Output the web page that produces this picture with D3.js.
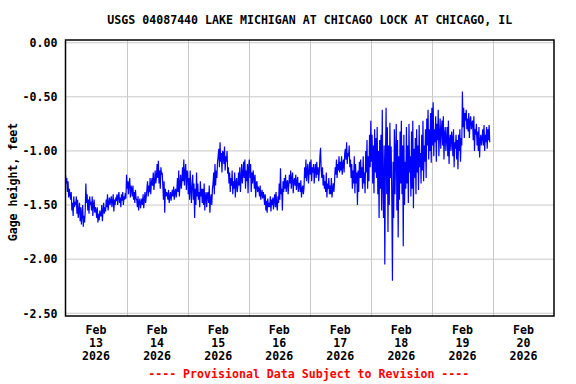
<!DOCTYPE html>
<html>
<head>
<meta charset="utf-8">
<script src="https://cdn.jsdelivr.net/npm/d3@7"></script>
<style>
  html, body { margin: 0; padding: 0; background: #fff; }
  svg { display: block; }
  text { font-family: "DejaVu Sans Mono", "Liberation Mono", monospace; font-weight: bold; font-size: 11.6px; }
</style>
</head>
<body>
<svg id="chart" width="576" height="384"></svg>
<script>
// ---- data ----
const chartTitle = "USGS 04087440 LAKE MICHIGAN AT CHICAGO LOCK AT CHICAGO, IL";
const yAxisTitle = "Gage height, feet";
const footerText = "---- Provisional Data Subject to Revision ----";
const seriesStart = "2026-02-13T00:00";
const seriesStepMinutes = 15;
// gage height, feet, one reading every 15 minutes from Feb 13 00:00
const gageFeb13 = [
  -1.22,-1.30,-1.25,-1.38,-1.28,-1.43,-1.35,-1.40, -1.45,-1.38,-1.55,-1.48,-1.60,-1.42,-1.52,-1.47,
  -1.50,-1.42,-1.58,-1.45,-1.62,-1.55,-1.48,-1.65, -1.52,-1.68,-1.58,-1.50,-1.70,-1.60,-1.66,-1.55,
  -1.30,-1.48,-1.40,-1.55,-1.45,-1.58,-1.42,-1.50, -1.47,-1.55,-1.42,-1.60,-1.50,-1.45,-1.57,-1.52,
  -1.55,-1.62,-1.52,-1.66,-1.58,-1.64,-1.55,-1.60, -1.60,-1.50,-1.65,-1.55,-1.48,-1.58,-1.52,-1.56,
  -1.45,-1.52,-1.40,-1.55,-1.48,-1.43,-1.50,-1.46, -1.42,-1.52,-1.47,-1.40,-1.56,-1.45,-1.50,-1.44,
  -1.45,-1.40,-1.50,-1.42,-1.38,-1.48,-1.43,-1.52, -1.40,-1.46,-1.38,-1.50,-1.42,-1.45,-1.39,-1.44];
const gageFeb14 = [
  -1.22,-1.35,-1.28,-1.40,-1.30,-1.25,-1.43,-1.32, -1.35,-1.42,-1.32,-1.45,-1.38,-1.48,-1.36,-1.44,
  -1.45,-1.52,-1.42,-1.55,-1.47,-1.44,-1.53,-1.48, -1.44,-1.50,-1.40,-1.53,-1.45,-1.38,-1.48,-1.42,
  -1.35,-1.28,-1.42,-1.32,-1.38,-1.25,-1.40,-1.30, -1.25,-1.32,-1.20,-1.36,-1.28,-1.18,-1.30,-1.24,
  -1.12,-1.25,-1.09,-1.30,-1.18,-1.35,-1.15,-1.22, -1.20,-1.32,-1.45,-1.28,-1.57,-1.35,-1.42,-1.38,
  -1.40,-1.45,-1.36,-1.48,-1.42,-1.38,-1.46,-1.40, -1.36,-1.42,-1.33,-1.45,-1.38,-1.35,-1.43,-1.37,
  -1.25,-1.38,-1.18,-1.42,-1.30,-1.22,-1.35,-1.28, -1.15,-1.28,-1.08,-1.32,-1.20,-1.12,-1.36,-1.18];
const gageFeb15 = [
  -1.20,-1.40,-1.25,-1.45,-1.18,-1.35,-1.48,-1.30, -1.22,-1.45,-1.30,-1.62,-1.35,-1.50,-1.20,-1.42,
  -1.30,-1.45,-1.38,-1.52,-1.28,-1.42,-1.35,-1.48, -1.35,-1.50,-1.30,-1.55,-1.42,-1.38,-1.52,-1.40,
  -1.38,-1.48,-1.32,-1.57,-1.45,-1.40,-1.50,-1.35, -1.30,-1.20,-1.40,-1.12,-1.32,-1.18,-1.25,-1.10,
  -1.05,-0.98,-1.15,-0.92,-1.10,-1.02,-1.20,-1.00, -1.02,-1.12,-0.96,-1.18,-1.05,-1.10,-1.00,-1.21,
  -1.15,-1.30,-1.20,-1.38,-1.25,-1.32,-1.18,-1.40, -1.28,-1.35,-1.20,-1.43,-1.30,-1.25,-1.38,-1.32,
  -1.20,-1.32,-1.15,-1.38,-1.25,-1.12,-1.30,-1.22, -1.10,-1.25,-1.08,-1.35,-1.18,-1.28,-1.12,-1.39];
const gageFeb16 = [
  -1.15,-1.08,-1.25,-1.12,-1.38,-1.20,-1.30,-1.18, -1.25,-1.35,-1.22,-1.43,-1.30,-1.28,-1.38,-1.33,
  -1.35,-1.42,-1.32,-1.45,-1.40,-1.36,-1.44,-1.38, -1.42,-1.50,-1.40,-1.55,-1.46,-1.57,-1.44,-1.52,
  -1.48,-1.52,-1.42,-1.56,-1.45,-1.50,-1.43,-1.54, -1.45,-1.40,-1.52,-1.38,-1.50,-1.55,-1.42,-1.48,
  -1.30,-1.45,-1.16,-1.40,-1.35,-1.55,-1.28,-1.38, -1.25,-1.35,-1.22,-1.38,-1.30,-1.27,-1.40,-1.32,
  -1.22,-1.30,-1.18,-1.35,-1.25,-1.20,-1.39,-1.28, -1.25,-1.32,-1.22,-1.36,-1.28,-1.24,-1.38,-1.30,
  -1.30,-1.38,-1.27,-1.43,-1.35,-1.32,-1.40,-1.34, -1.15,-1.25,-1.08,-1.28,-1.18,-1.12,-1.30,-1.20];
const gageFeb17 = [
  -1.10,-1.22,-1.08,-1.28,-1.15,-1.20,-1.12,-1.30, -1.18,-1.12,-1.25,-1.10,-1.22,-1.15,-1.28,-1.20,
  -1.05,-0.97,-1.18,-1.25,-1.15,-1.32,-1.22,-1.35, -1.28,-1.38,-1.20,-1.43,-1.30,-1.35,-1.25,-1.40,
  -1.32,-1.40,-1.25,-1.43,-1.35,-1.30,-1.38,-1.28, -1.15,-1.22,-1.08,-1.25,-1.12,-1.18,-1.05,-1.20,
  -1.10,-1.18,-1.05,-1.22,-1.12,-1.08,-1.20,-1.02, -0.98,-1.08,-0.92,-1.12,-1.02,-1.05,-0.95,-1.15,
  -1.08,-1.25,-1.12,-1.35,-1.18,-1.30,-1.05,-1.39, -1.12,-1.30,-1.20,-1.50,-1.18,-1.38,-1.10,-1.25,
  -1.08,-1.25,-1.15,-1.35,-1.05,-1.30,-1.20,-1.39, -1.00,-1.20,-0.90,-1.35,-1.05,-1.28,-0.85,-1.15];
const gageFeb18 = [
  -0.72,-1.10,-0.85,-1.30,-0.95,-1.39,-0.80,-1.20, -0.88,-1.25,-0.78,-1.40,-1.00,-1.62,-0.90,-1.35,
  -0.85,-1.55,-0.62,-1.30,-1.62,-0.95,-2.05,-1.10, -0.60,-1.40,-0.78,-1.75,-0.95,-1.50,-0.74,-1.25,
  -0.96,-1.45,-2.20,-1.10,-1.62,-0.80,-1.40,-1.00, -0.75,-1.55,-0.90,-1.80,-1.05,-1.45,-0.82,-1.30,
  -0.72,-1.40,-0.95,-1.88,-0.85,-1.50,-1.10,-1.35, -0.78,-1.30,-0.95,-1.48,-0.75,-1.20,-1.05,-1.42,
  -0.82,-1.35,-0.72,-1.53,-0.98,-1.25,-0.88,-1.40, -0.80,-1.20,-0.95,-1.36,-0.76,-1.15,-1.02,-1.30,
  -0.85,-1.18,-0.72,-1.28,-0.95,-1.10,-0.80,-1.25, -0.70,-0.95,-0.62,-1.08,-0.80,-1.00,-0.65,-1.11];
const gageFeb19 = [
  -0.60,-0.95,-0.55,-1.05,-0.80,-0.92,-0.68,-1.10, -0.75,-0.90,-0.62,-1.05,-0.85,-0.70,-0.98,-0.80,
  -0.72,-0.95,-0.68,-1.08,-0.85,-0.78,-1.00,-0.88, -0.78,-1.05,-0.72,-1.12,-0.90,-0.85,-1.00,-0.82,
  -0.88,-1.05,-0.80,-1.15,-0.92,-0.98,-0.85,-1.08, -0.90,-1.17,-0.85,-1.00,-0.80,-1.10,-0.88,-0.95,
  -0.45,-0.78,-0.60,-0.88,-0.65,-0.72,-0.62,-0.80, -0.70,-0.82,-0.65,-0.88,-0.72,-0.68,-0.80,-0.75,
  -0.72,-0.90,-0.68,-1.00,-0.80,-0.85,-0.75,-0.95, -0.82,-1.00,-0.78,-1.06,-0.90,-0.85,-0.95,-0.88,
  -0.80,-0.95,-0.76,-1.00,-0.85,-0.92,-0.78,-0.98, -0.80,-0.90,-0.76,-0.92];
const yTickValues = [0, -0.5, -1.0, -1.5, -2.0, -2.5];
const yTickLabels = ["0.00", "-0.50", "-1.00", "-1.50", "-2.00", "-2.50"];
const xDayStarts = ["2026-02-13","2026-02-14","2026-02-15","2026-02-16","2026-02-17","2026-02-18","2026-02-19","2026-02-20","2026-02-21"];
const xDayLabels = [["Feb","13","2026"],["Feb","14","2026"],["Feb","15","2026"],["Feb","16","2026"],
  ["Feb","17","2026"],["Feb","18","2026"],["Feb","19","2026"],["Feb","20","2026"]];
const yDomain = [-2.525, 0.025];

// ---- build ----
const gage = [].concat(gageFeb13, gageFeb14, gageFeb15, gageFeb16, gageFeb17, gageFeb18, gageFeb19);
const parseT = d3.timeParse("%Y-%m-%dT%H:%M");
const parseD = d3.timeParse("%Y-%m-%d");
const t0 = parseT(seriesStart);
const points = gage.map((v, i) => ({ t: d3.timeMinute.offset(t0, i * seriesStepMinutes), v }));
const days = xDayStarts.map(parseD);

const svg = d3.select("#chart");
const L = 65.5, R = 554, T = 40, B = 316;
const x = d3.scaleTime().domain([days[0], days[days.length - 1]]).range([L, R]);
const y = d3.scaleLinear().domain(yDomain).range([B, T]);

// gridlines
svg.append("g").selectAll("line.h").data(yTickValues).join("line")
  .attr("x1", L).attr("x2", R).attr("y1", d => y(d)).attr("y2", d => y(d))
  .attr("stroke", "#c8c8c8").attr("stroke-width", 1);
svg.append("g").selectAll("line.v").data(days.slice(1, -1)).join("line")
  .attr("x1", d => Math.round(x(d)) + 0.5).attr("x2", d => Math.round(x(d)) + 0.5)
  .attr("y1", T).attr("y2", B)
  .attr("stroke", "#c8c8c8").attr("stroke-width", 1);

// data line
const clipId = "plotclip";
svg.append("clipPath").attr("id", clipId).append("rect")
  .attr("x", L).attr("y", T).attr("width", R - L).attr("height", B - T);
svg.append("path").datum(points)
  .attr("clip-path", `url(#${clipId})`)
  .attr("fill", "none").attr("stroke", "#0000ff").attr("stroke-width", 1.2)
  .attr("d", d3.line().x(d => x(d.t)).y(d => y(d.v)));

// frame
svg.append("rect").attr("x", L).attr("y", T).attr("width", R - L).attr("height", B - T)
  .attr("fill", "none").attr("stroke", "#000").attr("stroke-width", 1.5);

// y axis labels
const yAxis = d3.axisLeft(y).tickValues(yTickValues)
  .tickFormat((d, i) => yTickLabels[i]).tickSize(0).tickPadding(8);
const gy = svg.append("g").attr("transform", `translate(${L},0)`).call(yAxis);
gy.select(".domain").remove();
gy.selectAll("text").attr("fill", "#000").attr("font-family", null).attr("font-size", null);

// x axis labels (centered at noon of each day)
const noons = days.slice(0, -1).map(d => d3.timeHour.offset(d, 12));
const gx = svg.append("g");
noons.forEach((n, i) => {
  const tx = gx.append("text").attr("x", x(n)).attr("y", 334).attr("text-anchor", "middle").attr("fill", "#000");
  xDayLabels[i].forEach((s, j) => tx.append("tspan").attr("x", x(n)).attr("dy", j === 0 ? 0 : 12.8).text(s));
});

// title
svg.append("text").attr("x", (L + R) / 2).attr("y", 24).attr("text-anchor", "middle").attr("fill", "#000").text(chartTitle);
// y title
svg.append("text").attr("transform", `translate(17,${(T + B) / 2 + 4}) rotate(-90)`)
  .attr("text-anchor", "middle").attr("fill", "#000").text(yAxisTitle);
// footer
svg.append("text").attr("x", (L + R) / 2 - 1).attr("y", 378).attr("text-anchor", "middle").attr("fill", "#ff0000").text(footerText);
</script>
</body>
</html>
